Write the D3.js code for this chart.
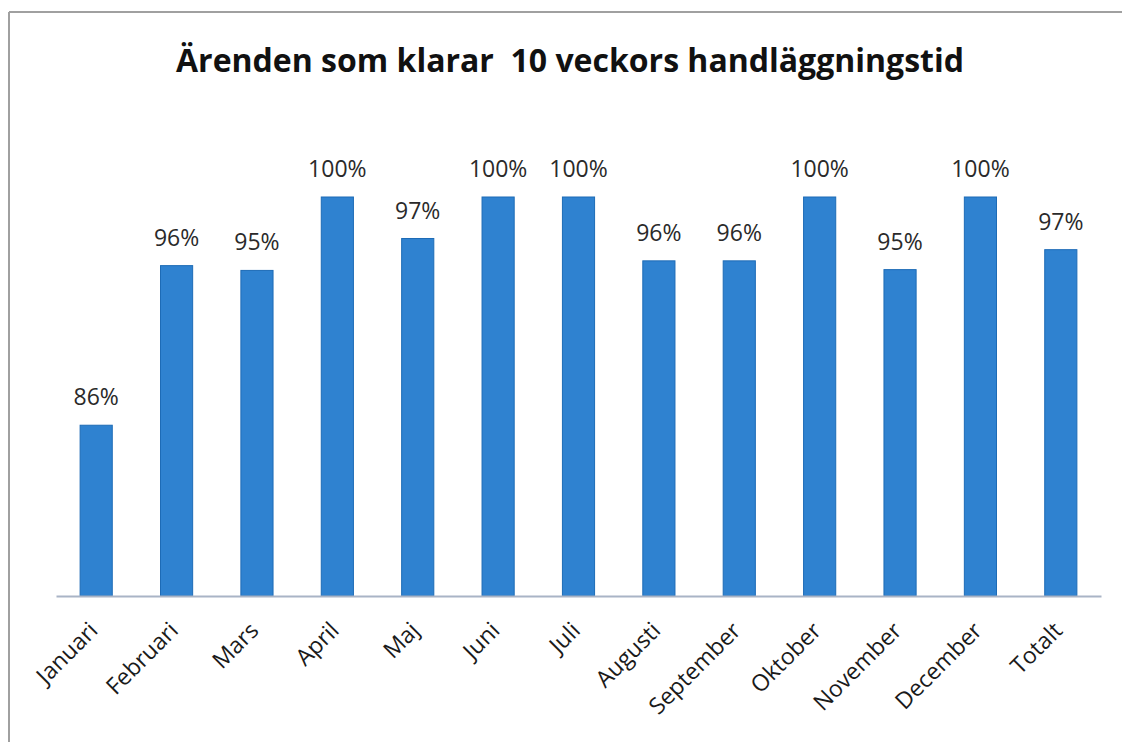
<!DOCTYPE html>
<html>
<head>
<meta charset="utf-8">
<script src="https://cdn.jsdelivr.net/npm/d3@7"></script>
<style>
  body { margin: 0; background: #fff; }
  svg { display: block; }
</style>
</head>
<body>
<div id="chart"></div>
<script>
// data
const months = ["Januari", "Februari", "Mars", "April", "Maj", "Juni", "Juli",
  "Augusti", "September", "Oktober", "November", "December", "Totalt"];
const values = [85.7, 95.7, 95.4, 100, 97.4, 100, 100, 96.0, 96.0, 100, 95.45, 100, 96.7];
const labels = ["86%", "96%", "95%", "100%", "97%", "100%", "100%",
  "96%", "96%", "100%", "95%", "100%", "97%"];
const yDomain = [75, 100];

const W = 1122, H = 742;
const margin = { top: 197, right: 21, bottom: 146, left: 56 };
const width = W - margin.left - margin.right;
const height = H - margin.top - margin.bottom;

const svg = d3.select("#chart").append("svg")
  .attr("width", W)
  .attr("height", H);

// frame (top and left edge of the pasted chart)
svg.append("line").attr("x1", 9).attr("x2", W).attr("y1", 12).attr("y2", 12)
  .attr("stroke", "#a0a0a0").attr("stroke-width", 2);
svg.append("line").attr("x1", 9).attr("x2", 9).attr("y1", 12).attr("y2", H)
  .attr("stroke", "#a0a0a0").attr("stroke-width", 2);

// title
svg.append("text")
  .attr("x", 570)
  .attr("y", 72)
  .attr("text-anchor", "middle")
  .attr("font-family", "'Open Sans', sans-serif")
  .attr("font-weight", "bold")
  .attr("font-size", "32px")
  .attr("fill", "#111")
  .style("white-space", "pre")
  .text("Ärenden som klarar  10 veckors handläggningstid");

const g = svg.append("g")
  .attr("transform", `translate(${margin.left},${margin.top})`);

const x = d3.scaleBand()
  .domain(months)
  .range([0, width])
  .paddingInner(0.6)
  .paddingOuter(0.3);

const y = d3.scaleLinear()
  .domain(yDomain)
  .range([height, 0]);

// bars
g.selectAll(".bar")
  .data(values)
  .enter()
  .append("rect")
  .attr("class", "bar")
  .attr("x", (d, i) => x(months[i]))
  .attr("y", d => y(d))
  .attr("width", x.bandwidth())
  .attr("height", d => height - y(d))
  .attr("fill", "#2f82d0")
  .attr("stroke", "#1d6bb6")
  .attr("stroke-width", 1);

// value labels
g.selectAll(".lbl")
  .data(values)
  .enter()
  .append("text")
  .attr("class", "lbl")
  .attr("x", (d, i) => x(months[i]) + x.bandwidth() / 2)
  .attr("y", d => y(d) - 20)
  .attr("text-anchor", "middle")
  .attr("font-family", "'Open Sans', sans-serif")
  .attr("font-size", "23px")
  .attr("fill", "#2a2a2a")
  .text((d, i) => labels[i]);

// x axis
const xAxis = g.append("g")
  .attr("transform", `translate(0,${height})`)
  .call(d3.axisBottom(x).tickSize(0).tickPadding(0));

xAxis.select(".domain")
  .attr("stroke", "#a9b4c6")
  .attr("stroke-width", 2);

xAxis.selectAll("text")
  .attr("font-family", "'Open Sans', sans-serif")
  .attr("font-size", "23px")
  .attr("fill", "#1a1a1a")
  .attr("text-anchor", "end")
  .attr("dy", null)
  .attr("transform", "translate(3,36) rotate(-45)");
</script>
</body>
</html>
